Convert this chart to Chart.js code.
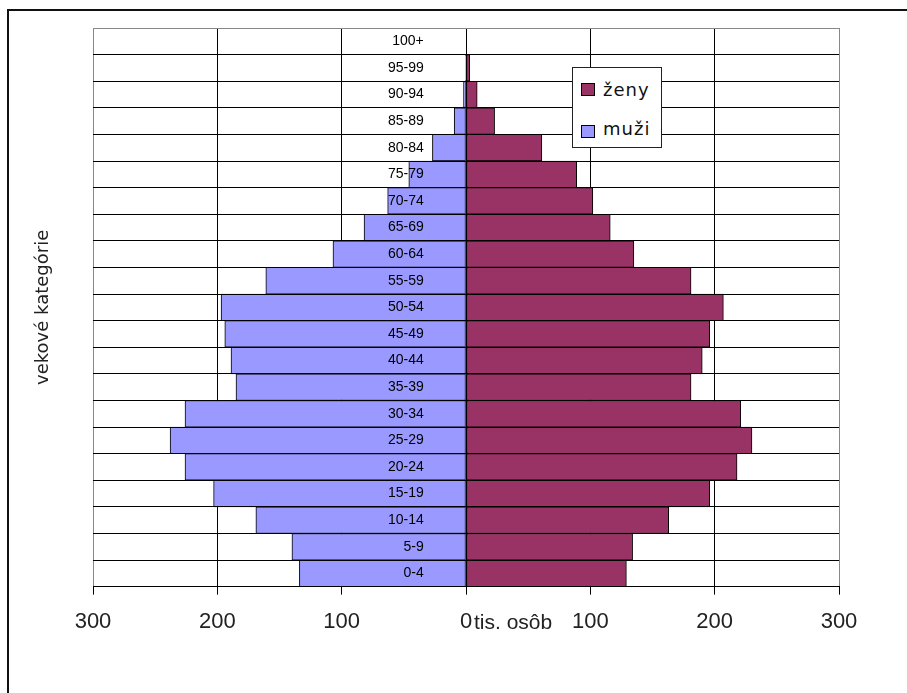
<!DOCTYPE html>
<html>
<head>
<meta charset="utf-8">
<script src="https://cdn.jsdelivr.net/npm/chart.js@4"></script>
<style>
  html, body { margin: 0; padding: 0; background: #fff; }
  #wrap { position: relative; width: 907px; height: 693px; overflow: hidden; background: #fff; }
  #frame { position: absolute; left: 7px; top: 9px; width: 1200px; height: 1200px; border-left: 2px solid #111; border-top: 2px solid #111; }
  #chartBox { position: absolute; left: 0; top: 0; width: 907px; height: 693px; }
  #legend { position: absolute; left: 572px; top: 67px; width: 90px; height: 81px; box-sizing: border-box; border: 1px solid #222; background: #fff; }
  .sw { position: absolute; left: 8px; width: 14px; height: 13px; box-sizing: border-box; border: 1px solid #000; }
  .lt { position: absolute; left: 30px; font-family: "DejaVu Sans", sans-serif; font-size: 18px; line-height: 18px; letter-spacing: 1px; color: #111; white-space: nowrap; }
</style>
</head>
<body>
<div id="wrap">
  <div id="frame"></div>
  <div id="chartBox"><canvas id="c"></canvas></div>
  <div id="legend"></div>
</div>
<script>
// Age categories, bottom (youngest) to top (oldest)
const categories = ['0-4','5-9','10-14','15-19','20-24','25-29','30-34','35-39','40-44','45-49','50-54','55-59','60-64','65-69','70-74','75-79','80-84','85-89','90-94','95-99','100+'];
// thousands of persons
const muzi = [134, 140, 169, 203, 226, 238, 226, 185, 189, 194, 197, 161, 107, 82, 63, 46, 27, 9.5, 2, 0.5, 0];
const zeny = [129, 134, 163, 196, 218, 230, 221, 181, 190, 196, 207, 181, 135, 116, 102, 89, 61, 23, 9, 3, 0];
const xTicks = [-300, -200, -100, 0, 100, 200, 300];
const seriesNames = ['ženy', 'muži'];
const seriesColors = ['#993366', '#9999FF'];
const xUnit = 'tis. osôb';
const yTitle = 'vekové kategórie';

const unitPlugin = {
  id: 'unitLabel',
  afterDraw(chart) {
    const xs = chart.scales.x;
    const ctx = chart.ctx;
    ctx.save();
    ctx.font = '21px "Liberation Sans", Arial, sans-serif';
    ctx.fillStyle = '#222';
    ctx.textAlign = 'left';
    ctx.textBaseline = 'alphabetic';
    ctx.fillText(xUnit, xs.getPixelForValue(0) + 8, 629);
    ctx.restore();
  }
};

const chart = new Chart(document.getElementById('c'), {
  type: 'bar',
  data: {
    labels: categories,
    datasets: [
      { label: seriesNames[0], data: zeny, backgroundColor: seriesColors[0], borderColor: '#000', borderWidth: 1, borderSkipped: false, yAxisID: 'y' },
      { label: seriesNames[1], data: muzi.map(v => -v), backgroundColor: seriesColors[1], borderColor: '#000', borderWidth: 1, borderSkipped: false, yAxisID: 'y' }
    ]
  },
  options: {
    indexAxis: 'y',
    responsive: true,
    maintainAspectRatio: false,
    animation: false,
    devicePixelRatio: 1,
    layout: { padding: { left: 32, top: 28, right: 68, bottom: 46.3 } },
    datasets: { bar: { barPercentage: 1, categoryPercentage: 1, grouped: false } },
    plugins: { legend: { display: false }, tooltip: { enabled: false } },
    scales: {
      x: {
        type: 'linear',
        position: 'bottom',
        min: -300, max: 300,
        afterBuildTicks: s => { s.ticks = xTicks.map(v => ({ value: v })); },
        afterFit: s => { s.height = 60; },
        ticks: {
          callback: v => String(Math.abs(v)),
          font: { family: '"Liberation Sans", Arial, sans-serif', size: 22 },
          color: '#222',
          padding: 14,
          maxRotation: 0,
          autoSkip: false
        },
        grid: {
          color: c => (c.tick && Math.abs(c.tick.value) === 300) ? '#888' : '#000',
          tickColor: '#000',
          tickLength: 8,
          lineWidth: 1
        },
        border: { display: true, color: '#000', width: 1 }
      },
      y: {
        type: 'category',
        position: { x: -34 },
        reverse: true,
        offset: true,
        ticks: {
          font: { family: '"Liberation Sans", Arial, sans-serif', size: 14 },
          color: '#000',
          padding: 0,
          autoSkip: false,
          z: 2
        },
        grid: {
          offset: true,
          color: c => (c.index === undefined) ? '#888' : '#000',
          drawTicks: false,
          lineWidth: 1,
          z: 1
        },
        border: { display: false }
      },
      yt: {
        type: 'linear',
        position: 'left',
        display: true,
        ticks: { display: false },
        grid: { display: false, drawTicks: false },
        border: { display: false },
        afterFit: s => { s.width = 61; },
        title: {
          display: true,
          text: yTitle,
          font: { family: '"DejaVu Sans", sans-serif', size: 18 },
          color: '#222',
          padding: { top: 1, bottom: 0 }
        }
      }
    }
  },
  plugins: [unitPlugin]
});

// HTML legend built from the datasets
const legend = document.getElementById('legend');
const tops = [{ sw: 15.3, tx: 12.75 }, { sw: 57.3, tx: 51.75 }];
chart.data.datasets.forEach((ds, i) => {
  const sw = document.createElement('div');
  sw.className = 'sw';
  sw.style.top = tops[i].sw + 'px';
  sw.style.background = ds.backgroundColor;
  const tx = document.createElement('div');
  tx.className = 'lt';
  tx.style.top = tops[i].tx + 'px';
  tx.textContent = ds.label;
  legend.appendChild(sw);
  legend.appendChild(tx);
});
</script>
</body>
</html>
